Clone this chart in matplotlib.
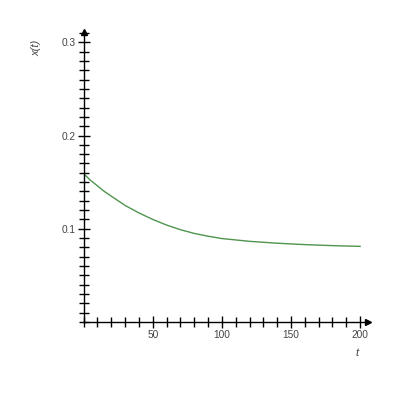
import matplotlib
matplotlib.use("Agg")
import matplotlib.pyplot as plt
from matplotlib.ticker import MultipleLocator

# values
t_values = [0, 5, 10, 15, 20, 25, 30, 40, 50, 60, 70, 80, 90, 100,
            120, 140, 160, 180, 200]
x_values = [0.159, 0.152, 0.146, 0.140, 0.135, 0.130, 0.125, 0.117, 0.110,
            0.104, 0.099, 0.095, 0.092, 0.0895, 0.0865, 0.0845, 0.0830,
            0.0819, 0.0811]

x_ticks = [50, 100, 150, 200]
y_ticks = [0.1, 0.2, 0.3]

plt.rcParams["font.family"] = ["Liberation Sans", "DejaVu Sans"]

fig = plt.figure(figsize=(4, 4), dpi=100)
ax = fig.add_axes([0.209, 0.195, 0.712, 0.725])

ax.plot(t_values, x_values, color="#4f944f", linewidth=1.0)

ax.set_xlim(0, 206)
ax.set_ylim(0, 0.311)

for side in ("top", "right"):
    ax.spines[side].set_visible(False)
for side in ("left", "bottom"):
    ax.spines[side].set_color("black")
    ax.spines[side].set_linewidth(1.0)

# arrow heads at the axis ends
ax.plot(1, 0, ">", color="black", markersize=5, transform=ax.transAxes, clip_on=False)
ax.plot(0, 1, "^", color="black", markersize=5, transform=ax.transAxes, clip_on=False)

ax.set_xticks(x_ticks)
ax.set_yticks(y_ticks)
ax.set_xticklabels([str(v) for v in x_ticks])
ax.set_yticklabels(["0.1", "0.2", "0.3"])
ax.xaxis.set_minor_locator(MultipleLocator(10))
ax.yaxis.set_minor_locator(MultipleLocator(0.01))

ax.tick_params(which="major", direction="inout", length=8, width=1.0,
               color="black", labelsize=7.3, labelcolor="#444444", pad=2)
ax.tick_params(which="minor", direction="inout", length=6.5, width=1.0, color="black")

fig.text(0.09, 0.88, "x(t)", rotation=90, fontsize=8, style="italic",
         color="#444444", ha="center", va="center")
fig.text(0.893, 0.118, "t", fontsize=8, style="italic",
         color="#444444", ha="center", va="center")

fig.savefig("out.png", dpi=100)
